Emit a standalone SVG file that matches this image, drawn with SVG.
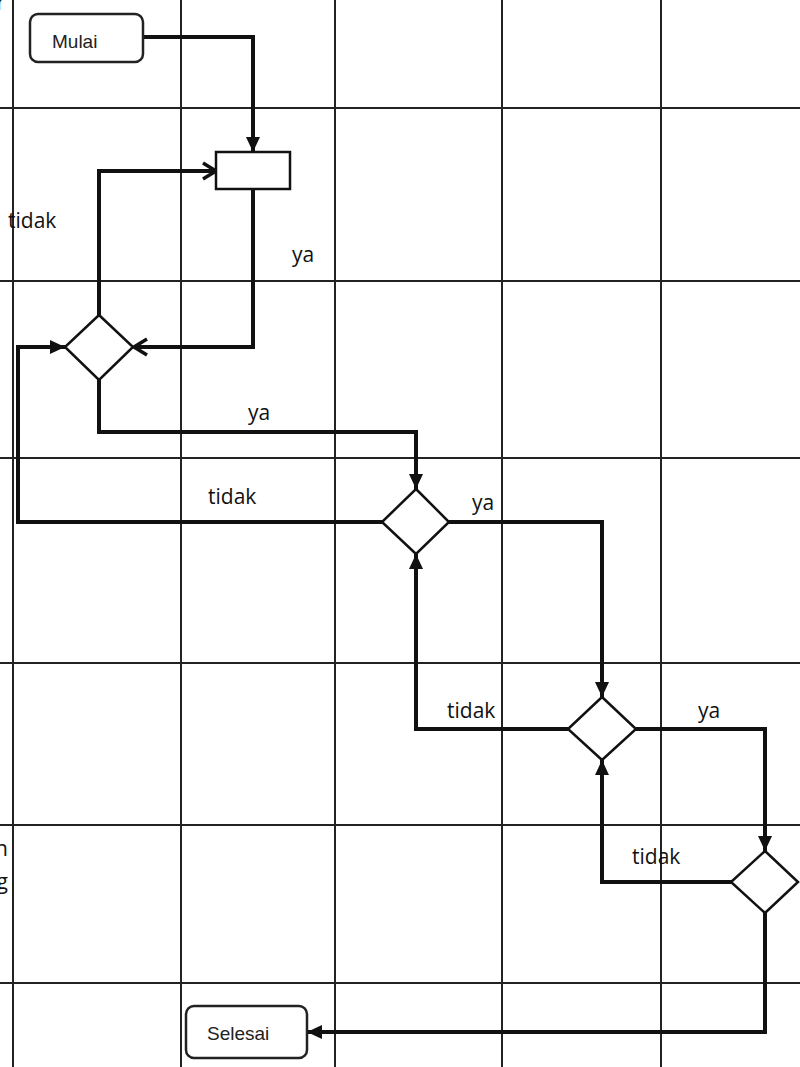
<svg xmlns="http://www.w3.org/2000/svg" width="800" height="1067" viewBox="0 0 800 1067">
<style>
.grid{stroke:#222;stroke-width:2;fill:none}
.conn{stroke:#111;stroke-width:4;fill:none;stroke-linejoin:miter}
.shape{fill:#fff;stroke:#111;stroke-width:2.5}
.term{fill:#fff;stroke:#222;stroke-width:2.5}
.lbl{font-family:"Open Sans","DejaVu Sans",sans-serif;font-size:21px;font-weight:500;fill:#111}
.tt{font-family:"Liberation Sans",Arial,sans-serif;font-size:19px;fill:#222}
</style>
<defs>
<marker id="fa" markerUnits="userSpaceOnUse" markerWidth="16" markerHeight="14" refX="15" refY="7" orient="auto">
<path d="M0,0 L15,7 L0,14 Z" fill="#111"/>
</marker>
<marker id="oa" markerUnits="userSpaceOnUse" markerWidth="18" markerHeight="20" refX="15" refY="10" orient="auto">
<path d="M2,2 L15,10 L2,18" fill="none" stroke="#111" stroke-width="3.5"/>
</marker>
</defs>
<rect width="800" height="1067" fill="#fff"/>
<g id="grid" class="grid">
<line x1="13" y1="0" x2="13" y2="1067"/>
<line x1="181" y1="0" x2="181" y2="1067"/>
<line x1="335" y1="0" x2="335" y2="1067"/>
<line x1="502" y1="0" x2="502" y2="1067"/>
<line x1="661" y1="0" x2="661" y2="1067"/>
<line x1="0" y1="108" x2="800" y2="108"/>
<line x1="0" y1="281" x2="800" y2="281"/>
<line x1="0" y1="458" x2="800" y2="458"/>
<line x1="0" y1="663" x2="800" y2="663"/>
<line x1="0" y1="825" x2="800" y2="825"/>
<line x1="0" y1="983" x2="800" y2="983"/>
</g>
<g id="edge-text" class="lbl">
<text x="5" y="10" text-anchor="end">r</text>
<text x="8" y="856" text-anchor="end">n</text>
<text x="8" y="889" text-anchor="end">g</text>
</g>
<g id="connectors">
<polyline class="conn" points="143,37 253,37 253,152" marker-end="url(#fa)"/>
<polyline class="conn" points="253,189 253,347 134,347" marker-end="url(#oa)"/>
<polyline class="conn" points="99,315 99,171 216,171" marker-end="url(#oa)"/>
<polyline class="conn" points="99,380 99,432 416,432 416,489" marker-end="url(#fa)"/>
<polyline class="conn" points="382,522 18,522 18,347 65,347" marker-end="url(#fa)"/>
<polyline class="conn" points="449,522 602,522 602,697" marker-end="url(#fa)"/>
<polyline class="conn" points="568,729 416,729 416,554" marker-end="url(#fa)"/>
<polyline class="conn" points="636,729 765,729 765,851" marker-end="url(#fa)"/>
<polyline class="conn" points="731,882 602,882 602,760" marker-end="url(#fa)"/>
<polyline class="conn" points="765,913 765,1032 307,1032" marker-end="url(#fa)"/>
</g>
<g id="mulai">
<rect class="term" x="30" y="14" width="113" height="48" rx="8"/>
<text class="tt" x="52" y="48">Mulai</text>
</g>
<g id="proses">
<rect class="shape" x="216" y="152" width="74" height="37"/>
</g>
<g id="d1"><polygon class="shape" points="99,315 133,347 99,380 65,347"/></g>
<g id="d2"><polygon class="shape" points="416,489 449,522 416,554 382,522"/></g>
<g id="d3"><polygon class="shape" points="602,697 636,729 602,760 568,729"/></g>
<g id="d4"><polygon class="shape" points="765,851 798,882 765,913 731,882"/></g>
<g id="selesai">
<rect class="term" x="186" y="1006" width="121" height="52" rx="8"/>
<text class="tt" x="207" y="1040">Selesai</text>
</g>
<g id="labels" class="lbl">
<text x="8" y="228">tidak</text>
<text x="292" y="262">ya</text>
<text x="248" y="420">ya</text>
<text x="208" y="504">tidak</text>
<text x="472" y="510">ya</text>
<text x="447" y="718">tidak</text>
<text x="698" y="718">ya</text>
<text x="632" y="864">tidak</text>
</g>
</svg>
